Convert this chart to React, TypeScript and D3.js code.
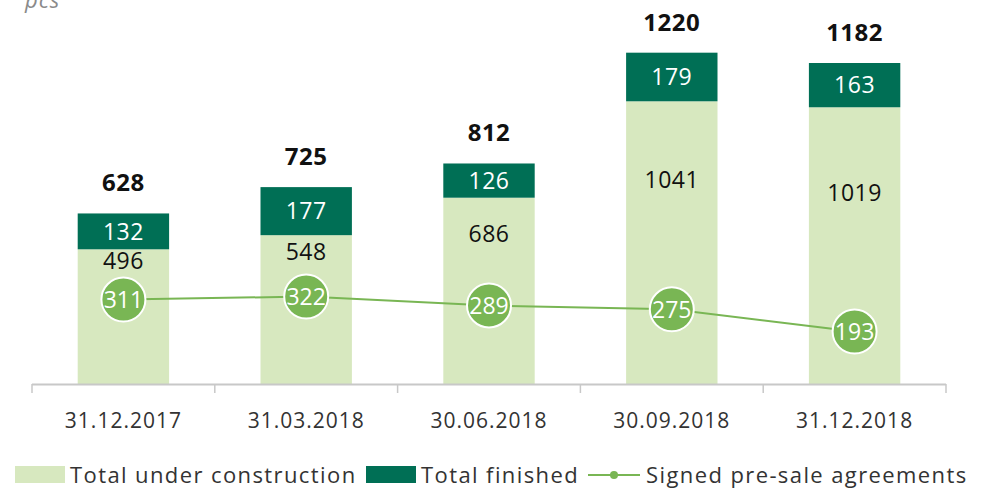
import React from "react";
import * as d3 from "d3";

const categories = ["31.12.2017", "31.03.2018", "30.06.2018", "30.09.2018", "31.12.2018"];
const underConstruction = [496, 548, 686, 1041, 1019];
const finished = [132, 177, 126, 179, 163];
const totals = [628, 725, 812, 1220, 1182];
const presale = [311, 322, 289, 275, 193];

const W = 986;
const H = 490;
const FONT = "'Open Sans', 'Noto Sans', sans-serif";
const LIGHT = "#d7e8bf";
const DARK = "#006f55";
const LINE = "#79b654";

export default function App() {
  const x = d3.scaleBand<string>().domain(categories).range([32, 946]).paddingInner(0.5).paddingOuter(0.25);
  const xb = d3.scaleBand<string>().domain(categories).range([32, 946]);
  const y = d3.scaleLinear().domain([0, 1414]).range([384, 0]);
  const r = 22;
  const line = d3
    .line<number>()
    .x((_, i) => (xb(categories[i]) as number) + xb.bandwidth() / 2)
    .y((d) => y(d));

  return (
    <svg width={W} height={H} style={{ position: "absolute", left: 0, top: 0, background: "#fff" }} fontFamily={FONT}>
      <text x={25} y={8} fontSize={22} fontStyle="italic" fill="#8a8a8a" letterSpacing={1}>pcs</text>
      {categories.map((c, i) => {
        const bx = x(c) as number;
        const bw = x.bandwidth();
        const cx = bx + bw / 2;
        const yUc = y(underConstruction[i]);
        const yTop = y(underConstruction[i] + finished[i]);
        const circleTop = y(presale[i]) - r;
        const ucLabelY = yUc + 0.42 * (circleTop - yUc);
        return (
          <g key={c}>
            <rect x={bx} y={yUc} width={bw} height={y(0) - yUc} fill={LIGHT} />
            <rect x={bx} y={yTop} width={bw} height={yUc - yTop} fill={DARK} />
            <text x={cx} y={(yTop + yUc) / 2} dy="0.36em" textAnchor="middle" fontSize={23} fill="#fff" letterSpacing={0.5}>{finished[i]}</text>
            <text x={cx} y={ucLabelY} dy="0.36em" textAnchor="middle" fontSize={23} fill="#111" letterSpacing={0.5}>{underConstruction[i]}</text>
            <text x={cx} y={yTop - 22} textAnchor="middle" fontSize={24} fontWeight="bold" fill="#111" letterSpacing={0.5}>{totals[i]}</text>
          </g>
        );
      })}
      <path d={line(presale) as string} fill="none" stroke={LINE} strokeWidth={2} />
      {presale.map((v, i) => {
        const cx = (xb(categories[i]) as number) + xb.bandwidth() / 2;
        return (
          <g key={i}>
            <circle cx={cx} cy={y(v)} r={r} fill={LINE} stroke="#fff" strokeWidth={2} />
            <text x={cx} y={y(v)} dy="0.36em" textAnchor="middle" fontSize={23} fill="#fff">{v}</text>
          </g>
        );
      })}
      <line x1={32} x2={946} y1={384.5} y2={384.5} stroke="#c8c8c8" strokeWidth={2} />
      {[...categories.map((c) => xb(c) as number), 946].map((t, i) => (
        <line key={i} x1={t} x2={t} y1={384} y2={393} stroke="#c8c8c8" strokeWidth={1.5} />
      ))}
      {categories.map((c) => (
        <text key={c} x={(xb(c) as number) + xb.bandwidth() / 2} y={428} textAnchor="middle" fontSize={21} fill="#333" letterSpacing={1}>{c}</text>
      ))}
      <g fontSize={22} fill="#333" letterSpacing={1.4}>
        <rect x={15} y={466} width={50} height={17} fill={LIGHT} />
        <text x={70} y={483}>Total under construction</text>
        <rect x={366} y={466} width={50} height={17} fill={DARK} />
        <text x={421} y={483}>Total finished</text>
        <line x1={588} x2={640} y1={475} y2={475} stroke={LINE} strokeWidth={2} />
        <circle cx={614} cy={475} r={4} fill={LINE} />
        <text x={646} y={483}>Signed pre-sale agreements</text>
      </g>
    </svg>
  );
}
